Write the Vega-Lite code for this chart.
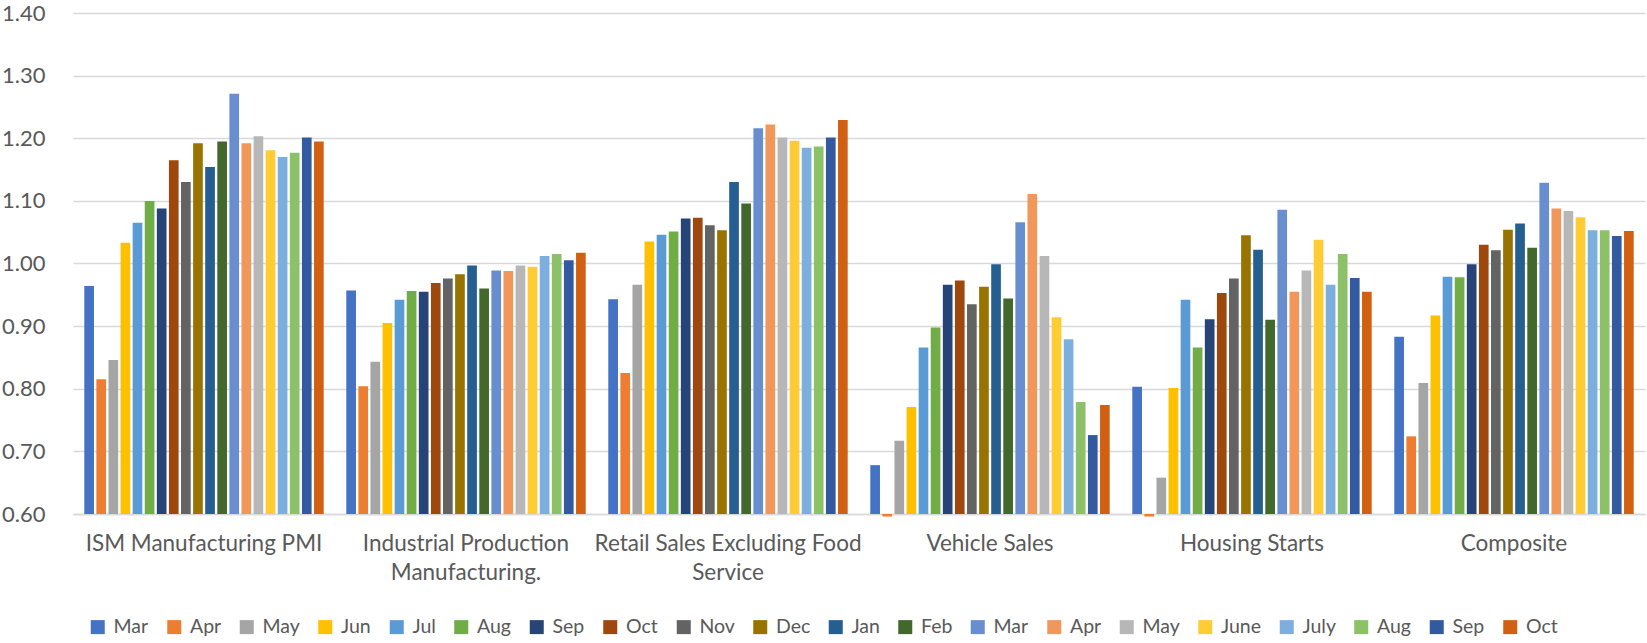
{
  "$schema": "https://vega.github.io/schema/vega-lite/v6.json",
  "width": 1572,
  "height": 501,
  "autosize": {"type": "none"},
  "padding": {"left": 73, "top": 13, "right": 2, "bottom": 129},
  "config": {"view": {"stroke": null}, "font": "Lato", "background": "white"},
  "data": {"values": [
    {"category": "ISM Manufacturing PMI", "month": "Mar 2020", "value": 0.964},
    {"category": "ISM Manufacturing PMI", "month": "Apr 2020", "value": 0.815},
    {"category": "ISM Manufacturing PMI", "month": "May 2020", "value": 0.846},
    {"category": "ISM Manufacturing PMI", "month": "Jun 2020", "value": 1.033},
    {"category": "ISM Manufacturing PMI", "month": "Jul 2020", "value": 1.065},
    {"category": "ISM Manufacturing PMI", "month": "Aug 2020", "value": 1.100},
    {"category": "ISM Manufacturing PMI", "month": "Sep 2020", "value": 1.088},
    {"category": "ISM Manufacturing PMI", "month": "Oct 2020", "value": 1.165},
    {"category": "ISM Manufacturing PMI", "month": "Nov 2020", "value": 1.130},
    {"category": "ISM Manufacturing PMI", "month": "Dec 2020", "value": 1.192},
    {"category": "ISM Manufacturing PMI", "month": "Jan 2021", "value": 1.154},
    {"category": "ISM Manufacturing PMI", "month": "Feb 2021", "value": 1.195},
    {"category": "ISM Manufacturing PMI", "month": "Mar 2021", "value": 1.271},
    {"category": "ISM Manufacturing PMI", "month": "Apr 2021", "value": 1.192},
    {"category": "ISM Manufacturing PMI", "month": "May 2021", "value": 1.203},
    {"category": "ISM Manufacturing PMI", "month": "June 2021", "value": 1.181},
    {"category": "ISM Manufacturing PMI", "month": "July 2021", "value": 1.170},
    {"category": "ISM Manufacturing PMI", "month": "Aug 2021", "value": 1.177},
    {"category": "ISM Manufacturing PMI", "month": "Sep 2021", "value": 1.201},
    {"category": "ISM Manufacturing PMI", "month": "Oct 2021", "value": 1.195},
    {"category": "Industrial Production Manufacturing.", "month": "Mar 2020", "value": 0.957},
    {"category": "Industrial Production Manufacturing.", "month": "Apr 2020", "value": 0.804},
    {"category": "Industrial Production Manufacturing.", "month": "May 2020", "value": 0.843},
    {"category": "Industrial Production Manufacturing.", "month": "Jun 2020", "value": 0.905},
    {"category": "Industrial Production Manufacturing.", "month": "Jul 2020", "value": 0.942},
    {"category": "Industrial Production Manufacturing.", "month": "Aug 2020", "value": 0.956},
    {"category": "Industrial Production Manufacturing.", "month": "Sep 2020", "value": 0.955},
    {"category": "Industrial Production Manufacturing.", "month": "Oct 2020", "value": 0.969},
    {"category": "Industrial Production Manufacturing.", "month": "Nov 2020", "value": 0.976},
    {"category": "Industrial Production Manufacturing.", "month": "Dec 2020", "value": 0.983},
    {"category": "Industrial Production Manufacturing.", "month": "Jan 2021", "value": 0.997},
    {"category": "Industrial Production Manufacturing.", "month": "Feb 2021", "value": 0.960},
    {"category": "Industrial Production Manufacturing.", "month": "Mar 2021", "value": 0.989},
    {"category": "Industrial Production Manufacturing.", "month": "Apr 2021", "value": 0.988},
    {"category": "Industrial Production Manufacturing.", "month": "May 2021", "value": 0.997},
    {"category": "Industrial Production Manufacturing.", "month": "June 2021", "value": 0.995},
    {"category": "Industrial Production Manufacturing.", "month": "July 2021", "value": 1.012},
    {"category": "Industrial Production Manufacturing.", "month": "Aug 2021", "value": 1.015},
    {"category": "Industrial Production Manufacturing.", "month": "Sep 2021", "value": 1.005},
    {"category": "Industrial Production Manufacturing.", "month": "Oct 2021", "value": 1.017},
    {"category": "Retail Sales Excluding Food Service", "month": "Mar 2020", "value": 0.943},
    {"category": "Retail Sales Excluding Food Service", "month": "Apr 2020", "value": 0.825},
    {"category": "Retail Sales Excluding Food Service", "month": "May 2020", "value": 0.966},
    {"category": "Retail Sales Excluding Food Service", "month": "Jun 2020", "value": 1.035},
    {"category": "Retail Sales Excluding Food Service", "month": "Jul 2020", "value": 1.046},
    {"category": "Retail Sales Excluding Food Service", "month": "Aug 2020", "value": 1.051},
    {"category": "Retail Sales Excluding Food Service", "month": "Sep 2020", "value": 1.072},
    {"category": "Retail Sales Excluding Food Service", "month": "Oct 2020", "value": 1.073},
    {"category": "Retail Sales Excluding Food Service", "month": "Nov 2020", "value": 1.061},
    {"category": "Retail Sales Excluding Food Service", "month": "Dec 2020", "value": 1.053},
    {"category": "Retail Sales Excluding Food Service", "month": "Jan 2021", "value": 1.130},
    {"category": "Retail Sales Excluding Food Service", "month": "Feb 2021", "value": 1.096},
    {"category": "Retail Sales Excluding Food Service", "month": "Mar 2021", "value": 1.216},
    {"category": "Retail Sales Excluding Food Service", "month": "Apr 2021", "value": 1.222},
    {"category": "Retail Sales Excluding Food Service", "month": "May 2021", "value": 1.201},
    {"category": "Retail Sales Excluding Food Service", "month": "June 2021", "value": 1.196},
    {"category": "Retail Sales Excluding Food Service", "month": "July 2021", "value": 1.185},
    {"category": "Retail Sales Excluding Food Service", "month": "Aug 2021", "value": 1.187},
    {"category": "Retail Sales Excluding Food Service", "month": "Sep 2021", "value": 1.201},
    {"category": "Retail Sales Excluding Food Service", "month": "Oct 2021", "value": 1.229},
    {"category": "Vehicle Sales", "month": "Mar 2020", "value": 0.678},
    {"category": "Vehicle Sales", "month": "Apr 2020", "value": 0.596},
    {"category": "Vehicle Sales", "month": "May 2020", "value": 0.717},
    {"category": "Vehicle Sales", "month": "Jun 2020", "value": 0.771},
    {"category": "Vehicle Sales", "month": "Jul 2020", "value": 0.866},
    {"category": "Vehicle Sales", "month": "Aug 2020", "value": 0.898},
    {"category": "Vehicle Sales", "month": "Sep 2020", "value": 0.966},
    {"category": "Vehicle Sales", "month": "Oct 2020", "value": 0.973},
    {"category": "Vehicle Sales", "month": "Nov 2020", "value": 0.935},
    {"category": "Vehicle Sales", "month": "Dec 2020", "value": 0.963},
    {"category": "Vehicle Sales", "month": "Jan 2021", "value": 0.999},
    {"category": "Vehicle Sales", "month": "Feb 2021", "value": 0.944},
    {"category": "Vehicle Sales", "month": "Mar 2021", "value": 1.066},
    {"category": "Vehicle Sales", "month": "Apr 2021", "value": 1.111},
    {"category": "Vehicle Sales", "month": "May 2021", "value": 1.012},
    {"category": "Vehicle Sales", "month": "June 2021", "value": 0.914},
    {"category": "Vehicle Sales", "month": "July 2021", "value": 0.879},
    {"category": "Vehicle Sales", "month": "Aug 2021", "value": 0.779},
    {"category": "Vehicle Sales", "month": "Sep 2021", "value": 0.726},
    {"category": "Vehicle Sales", "month": "Oct 2021", "value": 0.774},
    {"category": "Housing Starts", "month": "Mar 2020", "value": 0.803},
    {"category": "Housing Starts", "month": "Apr 2020", "value": 0.596},
    {"category": "Housing Starts", "month": "May 2020", "value": 0.658},
    {"category": "Housing Starts", "month": "Jun 2020", "value": 0.801},
    {"category": "Housing Starts", "month": "Jul 2020", "value": 0.942},
    {"category": "Housing Starts", "month": "Aug 2020", "value": 0.866},
    {"category": "Housing Starts", "month": "Sep 2020", "value": 0.911},
    {"category": "Housing Starts", "month": "Oct 2020", "value": 0.953},
    {"category": "Housing Starts", "month": "Nov 2020", "value": 0.976},
    {"category": "Housing Starts", "month": "Dec 2020", "value": 1.045},
    {"category": "Housing Starts", "month": "Jan 2021", "value": 1.022},
    {"category": "Housing Starts", "month": "Feb 2021", "value": 0.910},
    {"category": "Housing Starts", "month": "Mar 2021", "value": 1.086},
    {"category": "Housing Starts", "month": "Apr 2021", "value": 0.955},
    {"category": "Housing Starts", "month": "May 2021", "value": 0.989},
    {"category": "Housing Starts", "month": "June 2021", "value": 1.038},
    {"category": "Housing Starts", "month": "July 2021", "value": 0.966},
    {"category": "Housing Starts", "month": "Aug 2021", "value": 1.015},
    {"category": "Housing Starts", "month": "Sep 2021", "value": 0.977},
    {"category": "Housing Starts", "month": "Oct 2021", "value": 0.955},
    {"category": "Composite", "month": "Mar 2020", "value": 0.883},
    {"category": "Composite", "month": "Apr 2020", "value": 0.724},
    {"category": "Composite", "month": "May 2020", "value": 0.809},
    {"category": "Composite", "month": "Jun 2020", "value": 0.917},
    {"category": "Composite", "month": "Jul 2020", "value": 0.979},
    {"category": "Composite", "month": "Aug 2020", "value": 0.978},
    {"category": "Composite", "month": "Sep 2020", "value": 0.999},
    {"category": "Composite", "month": "Oct 2020", "value": 1.030},
    {"category": "Composite", "month": "Nov 2020", "value": 1.021},
    {"category": "Composite", "month": "Dec 2020", "value": 1.054},
    {"category": "Composite", "month": "Jan 2021", "value": 1.064},
    {"category": "Composite", "month": "Feb 2021", "value": 1.025},
    {"category": "Composite", "month": "Mar 2021", "value": 1.129},
    {"category": "Composite", "month": "Apr 2021", "value": 1.088},
    {"category": "Composite", "month": "May 2021", "value": 1.084},
    {"category": "Composite", "month": "June 2021", "value": 1.074},
    {"category": "Composite", "month": "July 2021", "value": 1.053},
    {"category": "Composite", "month": "Aug 2021", "value": 1.053},
    {"category": "Composite", "month": "Sep 2021", "value": 1.044},
    {"category": "Composite", "month": "Oct 2021", "value": 1.052}
  ]},
  "mark": {"type": "bar"},
  "encoding": {
    "x": {
      "field": "category", "type": "nominal",
      "sort": ["ISM Manufacturing PMI", "Industrial Production Manufacturing.", "Retail Sales Excluding Food Service", "Vehicle Sales", "Housing Starts", "Composite"],
      "scale": {"paddingInner": 0.077, "paddingOuter": 0.0385},
      "axis": {
        "title": null, "labelAngle": 0, "ticks": false, "domainColor": "#D9D9D9", "domainWidth": 1.3,
        "labelFont": "Lato", "labelFontSize": 22.5, "labelColor": "#595959", "labelPadding": 18,
        "labelLineHeight": 29, "labelLimit": 400, "labelBaseline": "top",
        "labelExpr": "datum.label == 'Industrial Production Manufacturing.' ? ['Industrial Production', 'Manufacturing.'] : datum.label == 'Retail Sales Excluding Food Service' ? ['Retail Sales Excluding Food', 'Service'] : datum.label"
      }
    },
    "xOffset": {
      "field": "month", "type": "nominal",
      "sort": ["Mar 2020", "Apr 2020", "May 2020", "Jun 2020", "Jul 2020", "Aug 2020", "Sep 2020", "Oct 2020", "Nov 2020", "Dec 2020", "Jan 2021", "Feb 2021", "Mar 2021", "Apr 2021", "May 2021", "June 2021", "July 2021", "Aug 2021", "Sep 2021", "Oct 2021"],
      "scale": {"paddingInner": 0.2, "paddingOuter": 0.1}
    },
    "y": {
      "field": "value", "type": "quantitative",
      "scale": {"domain": [0.6, 1.4], "zero": false, "nice": false},
      "axis": {
        "title": null, "values": [0.6, 0.7, 0.8, 0.9, 1.0, 1.1, 1.2, 1.3, 1.4], "format": ".2f",
        "domain": false, "ticks": false, "grid": true, "gridColor": "#D9D9D9", "gridWidth": 1.3,
        "labelFont": "Lato", "labelFontSize": 22, "labelColor": "#595959", "labelPadding": 28
      }
    },
    "y2": {"datum": 0.6},
    "color": {
      "field": "month", "type": "nominal",
      "scale": {
        "domain": ["Mar 2020", "Apr 2020", "May 2020", "Jun 2020", "Jul 2020", "Aug 2020", "Sep 2020", "Oct 2020", "Nov 2020", "Dec 2020", "Jan 2021", "Feb 2021", "Mar 2021", "Apr 2021", "May 2021", "June 2021", "July 2021", "Aug 2021", "Sep 2021", "Oct 2021"],
        "range": ["#4472C4", "#ED7D31", "#A5A5A5", "#FFC000", "#5B9BD5", "#70AD47", "#264478", "#9E480E", "#636363", "#997300", "#255E91", "#43682B", "#698ED0", "#F1975A", "#B7B7B7", "#FFCD33", "#7CAFDD", "#8CC168", "#335AA1", "#D26012"]
      },
      "legend": {
        "title": null, "orient": "none", "direction": "horizontal", "columns": 20,
        "legendX": 15, "legendY": 604,
        "symbolType": "square", "symbolSize": 196, "symbolStrokeWidth": 0, "symbolOpacity": 1,
        "labelFont": "Lato", "labelFontSize": 19.5, "labelColor": "#595959", "labelOffset": 6,
        "columnPadding": 15.5, "padding": 0,
        "labelExpr": "split(datum.label, ' ')[0]"
      }
    }
  }
}
